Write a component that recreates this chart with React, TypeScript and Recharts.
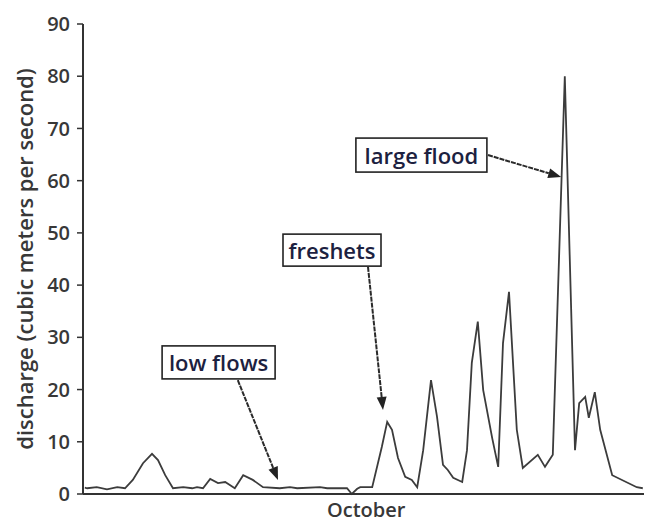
import {
  LineChart,
  Line,
  XAxis,
  YAxis,
  ReferenceLine,
  ReferenceDot,
} from 'recharts';

// day offsets along the record and discharge (m³/s)
const days = [
  0.3, 0.7, 2.3, 4, 5.7, 7, 8.3, 10, 11.5, 12.5, 13.7, 15, 16.7, 18.2, 19, 20,
  21.2, 22.5, 23.7, 25.3, 26.7, 28.3, 30, 32.8, 34.5, 35.7, 39.5, 40.7, 44, 44.8,
  45.7, 46.2, 48.2, 49.8, 50.7, 51.5, 52.5, 53.7, 54.8, 55.7, 56.7, 58, 59, 60,
  60.8, 61.7, 63.2, 64, 64.8, 65.8, 66.7, 68.2, 69.2, 70, 71, 72.3, 73.3, 75.8,
  77, 78.3, 80.3, 82, 82.7, 83.7, 84.3, 85.3, 86.2, 88.2, 92.3, 93.3,
];
const discharge = [
  1.2, 1.1, 1.3, 0.9, 1.3, 1.1, 2.7, 5.9, 7.7, 6.5, 3.6, 1.1, 1.3, 1.1, 1.3, 1.1,
  2.9, 2.1, 2.3, 1.1, 3.6, 2.7, 1.3, 1.1, 1.3, 1.1, 1.3, 1.1, 1.1, 0,
  1.0, 1.3, 1.3, 9.0, 13.8, 12.3, 6.9, 3.3, 2.7, 1.3, 8.4, 21.8, 14.8, 5.6,
  4.6, 3.1, 2.3, 8.4, 25.1, 33.0, 19.9, 10.7, 5.2, 28.9, 38.7, 12.3, 5.0, 7.5,
  5.2, 7.5, 80, 8.4, 17.4, 18.6, 14.6, 19.5, 12.3, 3.6, 1.3, 1.1,
];
const yTicks = [0, 10, 20, 30, 40, 50, 60, 70, 80, 90];
const monthTicks = [47.2];
const monthLabels = ['October'];

// callouts: label box centre, arrow start and arrow tip (data units)
const notes = [
  { text: 'low flows', x: 22.6, y: 25.2, w: 113, h: 33, from: [25.8, 21.8], to: [32.5, 2.7] },
  { text: 'freshets', x: 41.5, y: 46.7, w: 98, h: 32, from: [47.5, 43.5], to: [50, 16.1] },
  { text: 'large flood', x: 56.4, y: 64.9, w: 131, h: 34, from: [67.5, 64.9], to: [79.7, 60.7] },
];

const data = days.map((d, i) => ({ day: d, q: discharge[i] }));

const ink = '#333';
const font = "'Open Sans', sans-serif";

const Arrow = (props: any) => {
  const { x1, y1, x2, y2 } = props;
  const ang = Math.atan2(y2 - y1, x2 - x1);
  const len = 13;
  const half = 5;
  const bx = x2 - len * Math.cos(ang);
  const by = y2 - len * Math.sin(ang);
  const px = -Math.sin(ang) * half;
  const py = Math.cos(ang) * half;
  return (
    <g>
      <line x1={x1} y1={y1} x2={bx} y2={by} stroke="#2a2a2a" strokeWidth={2} strokeDasharray="5 1" />
      <polygon
        points={`${x2},${y2} ${bx + px},${by + py} ${bx - px},${by - py}`}
        fill="#222"
      />
    </g>
  );
};

const makeBox = (text: string, w: number, h: number) => (props: any) => {
  const { cx, cy } = props;
  return (
    <g>
      <rect x={cx - w / 2} y={cy - h / 2} width={w} height={h} fill="#fff" stroke="#222" strokeWidth={1.6} />
      <text
        x={cx}
        y={cy}
        textAnchor="middle"
        dominantBaseline="central"
        fontFamily={font}
        fontWeight={600}
        fontSize={22}
        fill="#1c2140"
      >
        {text}
      </text>
    </g>
  );
};

const YLabel = (props: any) => {
  const { viewBox } = props;
  const x = viewBox.x + 24;
  const y = viewBox.y + viewBox.height / 2;
  return (
    <text
      x={x}
      y={y}
      transform={`rotate(-90, ${x}, ${y})`}
      textAnchor="middle"
      dominantBaseline="central"
      fontFamily={font}
      fontWeight={600}
      fontSize={22}
      fill="#383838"
    >
      discharge (cubic meters per second)
    </text>
  );
};

export default function App() {
  return (
    <div style={{ position: 'fixed', left: 0, top: 0, width: 646, height: 523, background: '#fff' }}>
      <LineChart
        width={646}
        height={523}
        data={data}
        margin={{ top: 24, right: 2, bottom: 0, left: 0 }}
      >
        <XAxis
          type="number"
          dataKey="day"
          domain={[0, 93.5]}
          ticks={monthTicks}
          tickFormatter={(v: number) => monthLabels[monthTicks.indexOf(v)] ?? ''}
          tickLine={false}
          axisLine={{ stroke: ink, strokeWidth: 2 }}
          height={29}
          tickMargin={3}
          tick={{ fontFamily: font, fontWeight: 600, fontSize: 20, fill: '#383838' }}
        />
        <YAxis
          type="number"
          domain={[0, 90]}
          ticks={yTicks}
          width={83}
          interval={0}
          tickSize={6}
          tickMargin={7}
          tickLine={{ stroke: ink, strokeWidth: 1.5 }}
          axisLine={{ stroke: ink, strokeWidth: 2 }}
          tick={{ fontFamily: font, fontWeight: 600, fontSize: 20, fill: '#383838' }}
          label={<YLabel />}
        />
        <Line
          type="linear"
          dataKey="q"
          stroke="#3c3c3c"
          strokeWidth={1.8}
          dot={false}
          isAnimationActive={false}
        />
        {notes.map((n) => (
          <ReferenceLine
            key={n.text + '-arrow'}
            segment={[{ x: n.from[0], y: n.from[1] }, { x: n.to[0], y: n.to[1] }]}
            ifOverflow="visible"
            shape={<Arrow />}
          />
        ))}
        {notes.map((n) => (
          <ReferenceDot
            key={n.text}
            x={n.x}
            y={n.y}
            ifOverflow="visible"
            shape={makeBox(n.text, n.w, n.h)}
          />
        ))}
      </LineChart>
    </div>
  );
}
